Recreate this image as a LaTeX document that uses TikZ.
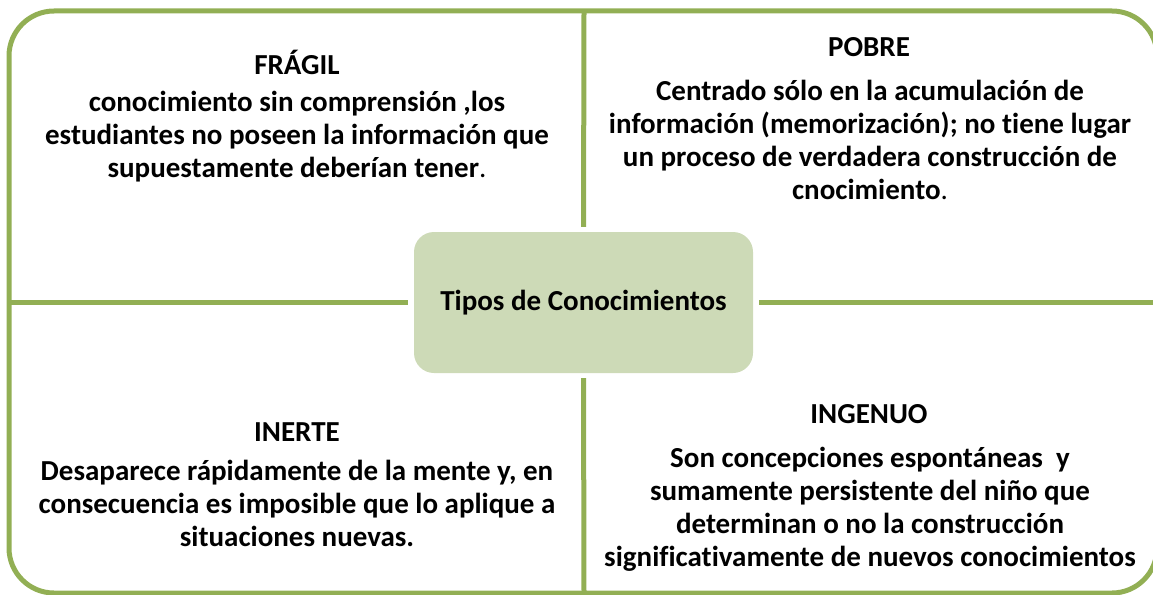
\documentclass[tikz,border=0pt]{standalone}
\usepackage{fontspec}
\setmainfont{Carlito}[Ligatures=NoCommon]
\definecolor{framegreen}{RGB}{146,175,84}
\definecolor{boxgreen}{RGB}{205,218,183}
\tikzset{
  frame/.style={draw=framegreen, line width=5pt},
  divider/.style={draw=framegreen, line width=5pt},
  hub/.style={fill=boxgreen, draw=none, rounded corners=20pt, minimum width=339pt, minimum height=141pt, inner sep=0pt, font=\fontsize{29}{35}\selectfont\bfseries},
  ttl/.style={inner sep=0pt, font=\fontsize{29}{33}\selectfont\bfseries},
  body/.style={inner sep=0pt, align=center, font=\fontsize{29}{33}\selectfont\bfseries},
}
\begin{document}
\begin{tikzpicture}[x=1pt,y=-1pt]
\useasboundingbox (0,0) rectangle (1153,594);
\clip (0,0) rectangle (1153,594);
\draw[frame, rounded corners=45pt] (9,11) rectangle (1157,593);
\node[hub] (hub) at (583.5,302.5) {Tipos de Conocimientos};
\coordinate (ctop) at (584,11);
\coordinate (cbot) at (584,594);
\coordinate (cleft) at (9,302.5);
\coordinate (cright) at (1157,302.5);
\draw[divider, shorten >=5pt] (ctop) -- (hub.north);
\draw[divider, shorten >=5pt] (cbot) -- (hub.south);
\draw[divider, shorten >=6pt] (cleft) -- (hub.west);
\draw[divider, shorten >=6pt] (cright) -- (hub.east);
\node[ttl] (fragilT) at (297,62) {FRÁGIL};
\node[body] (fragilB) at (297,137) {conocimiento sin comprensión ,los\\estudiantes no poseen la información que\\supuestamente deberían tener{\mdseries.}};
\node[ttl] (pobreT) at (869,47) {POBRE};
\node[body] (pobreB) at (870,140) {Centrado sólo en la acumulación de\\información (memorización); no tiene lugar\\un proceso de verdadera construcción de\\cnocimiento{\mdseries.}};
\node[ttl] (inerteT) at (297,432) {INERTE};
\node[body] (inerteB) at (297,503) {Desaparece rápidamente de la mente y, en\\consecuencia es imposible que lo aplique a\\situaciones nuevas.};
\node[ttl] (ingenuoT) at (869,414) {INGENUO};
\node[body] (ingenuoB) at (870,509) {Son concepciones espontáneas\ \ y\\sumamente persistente del niño que\\determinan o no la construcción\\significativamente de nuevos conocimientos};
\end{tikzpicture}
\end{document}
